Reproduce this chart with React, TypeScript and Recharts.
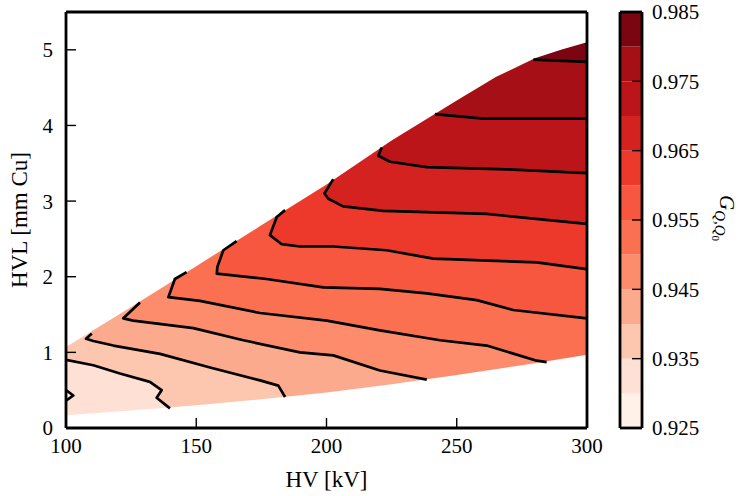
import React from 'react';
import { ComposedChart, Area, Line, XAxis, YAxis } from 'recharts';

const FONT = '"Liberation Serif", "DejaVu Serif", serif';

// axes
const hvTicks = [100, 150, 200, 250, 300];
const hvlTicks = [0, 1, 2, 3, 4, 5];
const HV_MIN = 100;
const HV_MAX = 300;
const HVL_MAX = 5.5;

// contour levels and colour of each band between two levels
const levels = [0.925, 0.93, 0.935, 0.94, 0.945, 0.95, 0.955, 0.96, 0.965, 0.97, 0.975, 0.98, 0.985];
const cbTicks = [0.925, 0.935, 0.945, 0.955, 0.965, 0.975, 0.985];
const bandColors = [
  '#fff0e8', '#fee1d4', '#fdc6ae', '#fcaa8d', '#fc8c6c', '#fb7050',
  '#f6573e', '#ed392b', '#d42221', '#bb151a', '#a50f15', '#7b0510',
];

// edges of the covered (HV, HVL) region
const upperEdge = [[100, 1.07], [125, 1.6], [150, 2.14], [175, 2.68], [200, 3.22], [225, 3.8], [250, 4.33], [265, 4.64], [280, 4.89], [290, 5.0], [300, 5.1]];
const lowerEdge = [[100, 0.17], [125, 0.23], [150, 0.3], [175, 0.38], [200, 0.47], [225, 0.58], [250, 0.7], [275, 0.83], [300, 0.97]];

// contour lines [HV, HVL]
const c930 = [[100, 0.5], [102.8, 0.43], [100, 0.36]];
const c935 = [[100, 0.9], [110.5, 0.83], [120.7, 0.72], [132.2, 0.61], [136.7, 0.5], [134.8, 0.4], [139.9, 0.26]];
const c940 = [[109.9, 1.25], [107.7, 1.18], [110.5, 1.15], [118.2, 1.09], [136.1, 0.98], [155.3, 0.8], [174.5, 0.63], [181.5, 0.56], [184.1, 0.41]];
const c945 = [[128.4, 1.66], [122, 1.45], [125.8, 1.42], [148.9, 1.32], [168.1, 1.16], [189.8, 1.0], [202.6, 0.96], [220.5, 0.76], [238.5, 0.64]];
const c950 = [[146.3, 2.06], [141.8, 1.97], [139.3, 1.73], [151.4, 1.68], [174.5, 1.52], [200.1, 1.42], [220.5, 1.29], [243.6, 1.16], [261.5, 1.09], [280.7, 0.89], [284.5, 0.87]];
const c955 = [[165.5, 2.47], [160.4, 2.35], [158.1, 2.13], [157.9, 2.04], [177, 1.97], [198.8, 1.86], [220.5, 1.84], [238.5, 1.78], [257.7, 1.69], [271.7, 1.56], [300, 1.45]];
const c960 = [[184.1, 2.88], [180.9, 2.79], [178.3, 2.55], [182.8, 2.43], [189.8, 2.4], [202.6, 2.4], [223.1, 2.35], [241, 2.24], [280.7, 2.19], [300, 2.1]];
const c965 = [[202.6, 3.29], [199.2, 3.1], [200.7, 3.03], [206.4, 2.93], [221.8, 2.87], [261.5, 2.83], [300, 2.7]];
const c970 = [[221.2, 3.71], [219.9, 3.6], [224.4, 3.52], [238.5, 3.45], [269.2, 3.42], [300, 3.37]];
const c975 = [[241.6, 4.15], [260.2, 4.09], [300, 4.09]];
const c980 = [[279.4, 4.87], [300, 4.84]];

const contours = [c930, c935, c940, c945, c950, c955, c960, c965, c970, c975, c980];
// lines that end on the lower edge instead of the right border
const endsOnLowerEdge = [false, true, true, true, true, false, false, false, false, false, false];

const AX = { stroke: '#000', strokeWidth: 2.8 };
const TL = { stroke: '#000', strokeWidth: 1.4 };
const TICK = { fill: '#000', fontSize: 21, fontFamily: FONT };

const pts = (arr: number[][]) => arr.map(([x, y]) => ({ x, y }));
// region above a contour line, up to the top of the plot
const above = (arr: number[][], toFloor: boolean) => {
  const rows = arr.map(([x, y]) => ({ x, r: [y, HVL_MAX] }));
  if (toFloor) rows.push({ x: HV_MAX, r: [0, HVL_MAX] });
  return rows;
};

const fillProps = { stroke: 'none', fillOpacity: 1, dot: false, activeDot: false, isAnimationActive: false } as any;

export default function App() {
  return (
    <div style={{ position: 'absolute', left: 0, top: 0, width: 740, height: 496, background: '#fff', fontFamily: FONT }}>
      <div style={{ position: 'absolute', left: 0, top: 0 }}>
        <ComposedChart width={620} height={496} margin={{ top: 11, right: 32, bottom: 0, left: 0 }}>
          {/* whole region in the second band */}
          <Area data={upperEdge.map(([x, y]) => ({ x, r: [0, y] }))} dataKey="r" fill={bandColors[1]} {...fillProps} />
          {/* lightest pocket on the left */}
          <Area data={above(c930, false)} dataKey="r" fill={bandColors[0]} {...fillProps} />
          {contours.slice(1).map((c, i) => (
            <Area key={'b' + i} data={above(c, endsOnLowerEdge[i + 1])} dataKey="r" fill={bandColors[i + 2]} {...fillProps} />
          ))}
          {/* white outside the covered region */}
          <Area data={upperEdge.map(([x, y]) => ({ x, r: [y, HVL_MAX] }))} dataKey="r" fill="#fff" {...fillProps} />
          <Area data={lowerEdge.map(([x, y]) => ({ x, r: [0, y] }))} dataKey="r" fill="#fff" {...fillProps} />
          {contours.map((c, i) => (
            <Line key={'c' + i} data={pts(c)} dataKey="y" stroke="#000" strokeWidth={2.7} strokeLinejoin="round" dot={false} activeDot={false} isAnimationActive={false} />
          ))}
          <XAxis
            dataKey="x" type="number" domain={[HV_MIN, HV_MAX]} ticks={hvTicks} allowDataOverflow
            height={68} tickSize={-10} tickMargin={20} axisLine={AX} tickLine={TL} tick={TICK} interval={0}
            label={{
              content: () => (
                <text x={326.5} y={487} textAnchor="middle" fontSize={23} fontFamily={FONT} fill="#000">HV [kV]</text>
              ),
            }}
          />
          <XAxis xAxisId="top" orientation="top" dataKey="x" type="number" domain={[HV_MIN, HV_MAX]} ticks={hvTicks} allowDataOverflow
            height={1} tickSize={-10} axisLine={AX} tickLine={TL} tick={false} interval={0} />
          <YAxis
            type="number" domain={[0, HVL_MAX]} ticks={hvlTicks} allowDataOverflow
            width={66} tickSize={-10} tickMargin={23} axisLine={AX} tickLine={TL} tick={TICK} interval={0}
            label={{
              content: () => (
                <text x={0} y={0} transform="translate(27,220) rotate(-90)" textAnchor="middle" fontSize={23} fontFamily={FONT} fill="#000">HVL [mm Cu]</text>
              ),
            }}
          />
          <YAxis yAxisId="right" orientation="right" type="number" domain={[0, HVL_MAX]} ticks={hvlTicks} allowDataOverflow
            width={1} tickSize={-10} axisLine={AX} tickLine={TL} tick={false} interval={0} />
        </ComposedChart>
      </div>

      <div style={{ position: 'absolute', left: 600, top: 0 }}>
        <ComposedChart width={140} height={496} margin={{ top: 11, right: 0, bottom: 0, left: 19 }}>
          {bandColors.map((c, i) => (
            <Area key={'cb' + i} yAxisId="cb" data={[{ x: 0, r: [levels[i], levels[i + 1]] }, { x: 1, r: [levels[i], levels[i + 1]] }]}
              dataKey="r" fill={c} {...fillProps} />
          ))}
          <XAxis dataKey="x" type="number" domain={[0, 1]} height={68} tick={false} tickLine={false} axisLine={AX} />
          <XAxis xAxisId="top" orientation="top" dataKey="x" type="number" domain={[0, 1]} height={1} tick={false} tickLine={false} axisLine={AX} />
          <YAxis yAxisId="l" orientation="left" type="number" domain={[0.925, 0.985]} width={1} tick={false} tickLine={false} axisLine={AX} />
          <YAxis
            yAxisId="cb" orientation="right" type="number" domain={[0.925, 0.985]} ticks={cbTicks} allowDataOverflow
            width={98} tickSize={-10} tickMargin={20} axisLine={AX} tickLine={TL} tick={TICK} interval={0}
            tickFormatter={(v: number) => v.toFixed(3)}
            label={{
              content: () => (
                <text x={0} y={0} transform="translate(120,195) rotate(90)" fontFamily={FONT} fill="#000">
                  <tspan fontSize={21} fontStyle="italic">G</tspan>
                  <tspan fontSize={15} fontStyle="italic" dy={5}>Q,Q</tspan>
                  <tspan fontSize={11} dy={3}>0</tspan>
                </text>
              ),
            }}
          />
        </ComposedChart>
      </div>
    </div>
  );
}
